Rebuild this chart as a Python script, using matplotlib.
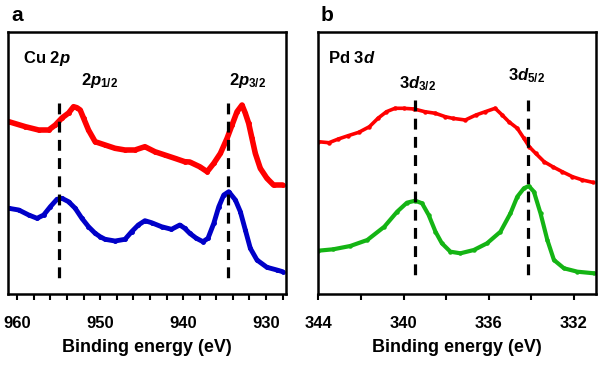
import matplotlib
matplotlib.use("Agg")
import matplotlib.pyplot as plt
from matplotlib.ticker import MultipleLocator

plt.rcParams['font.family'] = ['Liberation Sans', 'DejaVu Sans']
plt.rcParams['font.weight'] = 'bold'
plt.rcParams['mathtext.fontset'] = 'custom'
plt.rcParams['mathtext.rm'] = 'Liberation Sans:bold'
plt.rcParams['mathtext.it'] = 'Liberation Sans:bold:italic'
plt.rcParams['mathtext.bf'] = 'Liberation Sans:bold'

# ---- Cu 2p data (binding energy eV, intensity a.u.) ----
cu_red_e = [961.0, 959.0, 957.4, 956.2, 955.4, 954.6, 953.8, 953.2, 952.8, 952.4,
            952.0, 951.4, 950.6, 949.4, 948.2, 947.0, 945.8, 944.6, 943.4, 942.2,
            941.0, 939.8, 939.2, 938.0, 937.1, 936.3, 935.5, 934.7, 934.1, 933.5,
            932.9, 932.5, 932.1, 931.7, 931.3, 930.7, 929.9, 929.1, 928.0]
cu_red_i = [172.3, 167.3, 164.0, 164.0, 169.0, 176.0, 181.0, 187.3, 186.3, 184.0,
            176.0, 164.0, 152.3, 149.0, 145.7, 144.0, 144.0, 147.3, 142.3, 139.0,
            135.7, 132.3, 132.0, 127.3, 122.3, 130.7, 140.7, 155.7, 169.0, 182.3,
            189.0, 180.7, 170.7, 155.7, 140.7, 125.7, 115.7, 109.0, 109.0]
cu_blue_e = [961.0, 959.8, 958.6, 957.6, 956.8, 956.0, 955.2, 954.6, 953.8, 953.0,
             952.2, 951.4, 950.6, 950.0, 949.4, 948.2, 947.0, 946.2, 945.4, 944.6,
             943.8, 942.6, 941.4, 940.4, 939.8, 939.2, 938.4, 937.6, 937.0, 936.3,
             935.7, 935.1, 934.5, 933.7, 933.1, 932.5, 931.9, 931.1, 929.9, 928.7, 928.0]
cu_blue_i = [85.7, 84.0, 79.0, 75.7, 79.0, 87.3, 94.7, 95.7, 92.3, 85.7,
             75.7, 67.3, 60.7, 57.3, 54.7, 53.0, 54.7, 62.3, 69.0, 73.3,
             71.3, 67.3, 64.7, 69.0, 65.7, 60.7, 55.7, 52.3, 55.7, 70.7,
             87.3, 99.0, 102.3, 94.0, 82.3, 64.0, 45.7, 34.0, 26.7, 24.0, 22.3]
cu_peaks = [955.0, 934.6]
cu_peak_labels = [r"2$p_{1/2}$", r"2$p_{3/2}$"]

# ---- Pd 3d data ----
pd_red_e = [344.0, 343.5, 343.06, 342.6, 342.1, 341.6, 341.2, 340.8, 340.4, 340.0,
            339.5, 339.0, 338.5, 338.04, 337.7, 337.1, 336.6, 336.16, 335.7, 335.37,
            335.06, 334.66, 334.35, 334.1, 333.8, 333.4, 333.0, 332.55, 332.07, 331.6, 331.13]
pd_red_i = [152.3, 151.3, 155.0, 158.3, 161.7, 167.3, 175.7, 182.3, 185.7, 185.7,
            185.0, 182.3, 180.7, 177.3, 175.7, 174.0, 179.0, 182.3, 185.7, 179.0,
            172.3, 165.7, 155.7, 147.3, 140.7, 132.3, 127.3, 122.3, 117.3, 114.0, 111.7]
pd_green_e = [344.0, 343.3, 342.5, 341.7, 340.9, 340.3, 339.84, 339.45, 339.13, 338.82,
              338.5, 338.2, 337.8, 337.33, 336.7, 336.08, 335.45, 334.98, 334.66, 334.35,
              334.12, 333.88, 333.57, 333.25, 332.94, 332.47, 331.84, 331.06]
pd_green_i = [43.3, 44.7, 48.0, 54.0, 67.3, 82.3, 91.3, 93.3, 90.7, 79.0,
              62.3, 50.7, 42.3, 40.7, 44.0, 50.7, 62.3, 80.7, 97.3, 105.7,
              108.0, 102.3, 80.7, 54.0, 34.0, 25.7, 22.3, 20.7]
pd_peaks = [339.48, 334.15]
pd_peak_labels = [r"3$d_{3/2}$", r"3$d_{5/2}$"]

RED = '#FF0000'
BLUE = '#0000C8'
GREEN = '#14B414'

W, H = 600, 365
fig = plt.figure(figsize=(6.0, 3.65), dpi=100)

def fx(px):
    return px / W

def fy(py):
    return 1 - py / H

axL = fig.add_axes([fx(8), fy(294), fx(278), 262 / H])
axR = fig.add_axes([fx(318.3), fy(294), fx(277.4), 262 / H])

def style(ax, xlim, major):
    ax.set_xlim(*xlim)
    ax.set_ylim(0, 262)
    ax.set_yticks([])
    ax.xaxis.set_major_locator(MultipleLocator(major))
    ax.xaxis.set_minor_locator(MultipleLocator(2))
    ax.tick_params(axis='x', which='both', direction='out', length=4.5, width=1.5,
                   pad=11, labelsize=12)
    for lbl in ax.get_xticklabels():
        lbl.set_fontweight('bold')
    for s in ax.spines.values():
        s.set_linewidth(1.8)
    ax.set_xlabel('Binding energy (eV)', fontsize=13, fontweight='bold', labelpad=6)

style(axL, (961.1, 927.6), 10)
style(axR, (344.0, 330.98), 4)

axL.plot(cu_red_e, cu_red_i, color=RED, lw=4.0, marker='o', ms=2.5,
         solid_capstyle='round', solid_joinstyle='round')
axL.plot(cu_blue_e, cu_blue_i, color=BLUE, lw=3.5, marker='o', ms=2.5,
         solid_capstyle='round', solid_joinstyle='round')
axR.plot(pd_red_e, pd_red_i, color=RED, lw=2.6, marker='o', ms=2.2,
         solid_capstyle='round', solid_joinstyle='round')
axR.plot(pd_green_e, pd_green_i, color=GREEN, lw=3.0, marker='o', ms=2.2,
         solid_capstyle='round', solid_joinstyle='round')

for e in cu_peaks:
    axL.plot([e, e], [191, 11], color='black', lw=2.3, ls=(0, (3.4, 2.3)))
for e in pd_peaks:
    axR.plot([e, e], [194, 14], color='black', lw=2.3, ls=(0, (3.4, 2.3)))

# panel letters
fig.text(fx(11), fy(21), 'a', fontsize=15, fontweight='bold', va='baseline')
fig.text(fx(321), fy(21), 'b', fontsize=15, fontweight='bold', va='baseline')

# element labels
fig.text(fx(23), fy(63), r"Cu 2$p$", fontsize=12, fontweight='bold', va='baseline')
fig.text(fx(328), fy(63), r"Pd 3$d$", fontsize=12, fontweight='bold', va='baseline')

# peak labels
fig.text(fx(81), fy(85), cu_peak_labels[0], fontsize=12, fontweight='bold', va='baseline')
fig.text(fx(229), fy(85), cu_peak_labels[1], fontsize=12, fontweight='bold', va='baseline')
fig.text(fx(399), fy(88), pd_peak_labels[0], fontsize=12, fontweight='bold', va='baseline')
fig.text(fx(508), fy(80), pd_peak_labels[1], fontsize=12, fontweight='bold', va='baseline')

fig.savefig('out.png', dpi=100)
